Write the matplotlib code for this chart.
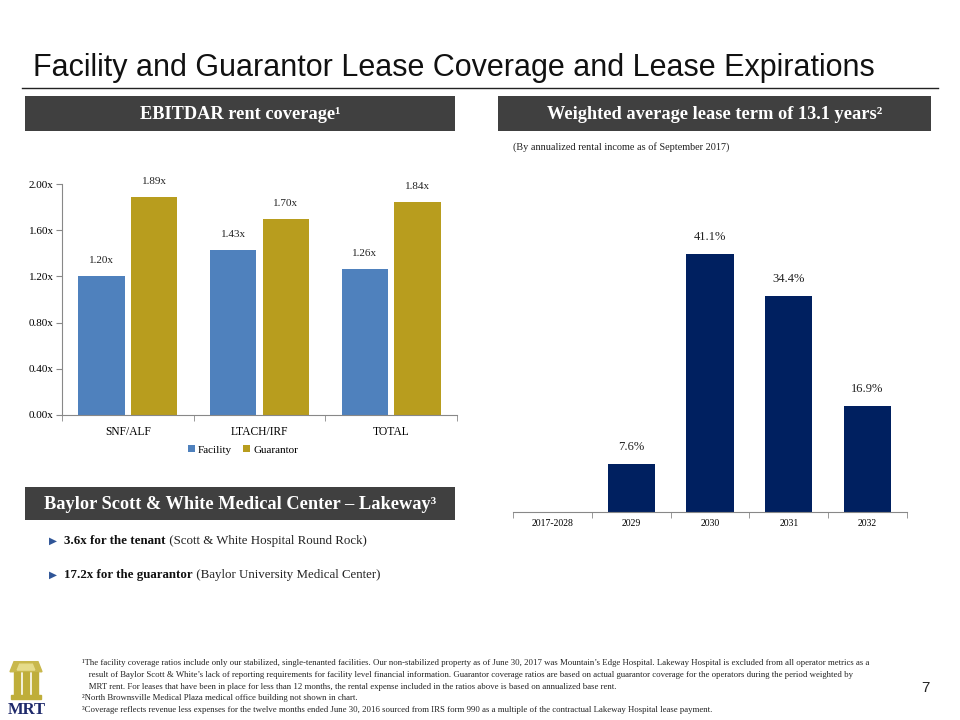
import matplotlib
matplotlib.use("Agg")
import matplotlib.pyplot as plt
from matplotlib.patches import Rectangle, Polygon
import numpy as np

# ---------------- data ----------------
cov_categories = ["SNF/ALF", "LTACH/IRF", "TOTAL"]
facility = [1.20, 1.43, 1.26]
guarantor = [1.89, 1.70, 1.84]
cov_ticks = [0.0, 0.4, 0.8, 1.2, 1.6, 2.0]

exp_categories = ["2017-2028", "2029", "2030", "2031", "2032"]
exp_values = [0.0, 7.6, 41.1, 34.4, 16.9]

title = "Facility and Guarantor Lease Coverage and Lease Expirations"
footnotes = [
    "\u00b9The facility coverage ratios include only our stabilized, single-tenanted facilities. Our non-stabilized property as of June 30, 2017 was Mountain\u2019s Edge Hospital. Lakeway Hospital is excluded from all operator metrics as a",
    "   result of Baylor Scott & White\u2019s lack of reporting requirements for facility level financial information. Guarantor coverage ratios are based on actual guarantor coverage for the operators during the period weighted by",
    "   MRT rent. For leases that have been in place for less than 12 months, the rental expense included in the ratios above is based on annualized base rent.",
    "\u00b2North Brownsville Medical Plaza medical office building not shown in chart.",
    "\u00b3Coverage reflects revenue less expenses for the twelve months ended June 30, 2016 sourced from IRS form 990 as a multiple of the contractual Lakeway Hospital lease payment.",
]

# ---------------- style ----------------
W, H = 960, 720
SERIF = ["Liberation Serif", "DejaVu Serif"]
SANS = ["Liberation Sans", "DejaVu Sans"]
BLUE = "#4F81BD"
GOLD = "#B89D1E"
NAVY = "#002060"
DARK = "#404040"
AXC = "#888888"

fig = plt.figure(figsize=(W / 100, H / 100), dpi=100)


def fx(x):
    return x / W


def fy(y):
    return 1 - y / H


# title and rule
fig.text(fx(33), fy(76), title, family=SANS, fontsize=22, color="#111111",
         va="baseline", ha="left")
fig.add_artist(plt.Line2D([fx(22), fx(938)], [fy(88), fy(88)], color="#222222",
                          lw=1.0, transform=fig.transFigure))


def header(x0, x1, y0, y1, text, size=13.2):
    fig.add_artist(Rectangle((fx(x0), fy(y1)), fx(x1 - x0), (y1 - y0) / H,
                             transform=fig.transFigure, color=DARK, lw=0))
    fig.text(fx((x0 + x1) / 2), fy((y0 + y1) / 2 + 1), text, family=SERIF,
             fontsize=size, fontweight="bold", color="white", ha="center", va="center")


header(25, 455, 96, 131, "EBITDAR rent coverage\u00b9")
header(498, 931, 96, 131, "Weighted average lease term of 13.1 years\u00b2")
header(25, 455, 487, 520, "Baylor Scott & White Medical Center \u2013 Lakeway\u00b3")

fig.text(fx(513), fy(147), "(By annualized rental income as of September 2017)",
         family=SERIF, fontsize=7.4, color="#222222", va="center", ha="left")

# ---------------- left chart ----------------
ax1 = fig.add_axes([fx(62), fy(415), fx(457 - 62), (415 - 184) / H])
x = np.arange(len(cov_categories))
bw = 0.35
off = 0.2
b1 = ax1.bar(x - off, facility, bw, color=BLUE, label="Facility")
b2 = ax1.bar(x + off, guarantor, bw, color=GOLD, label="Guarantor")
for bars, vals in ((b1, facility), (b2, guarantor)):
    for r, v in zip(bars, vals):
        ax1.annotate(f"{v:.2f}x", (r.get_x() + r.get_width() / 2, v),
                     xytext=(0, 8), textcoords="offset points", ha="center",
                     va="bottom", family=SERIF, fontsize=8, color="#222222")
ax1.set_xlim(-0.5, len(cov_categories) - 0.5)
ax1.set_ylim(0, 2.0)
ax1.set_yticks(cov_ticks)
ax1.set_yticklabels([f"{t:.2f}x" for t in cov_ticks], family=SERIF, fontsize=8)
ax1.set_xticks(x)
ax1.set_xticklabels(cov_categories, family=SERIF, fontsize=8.3)
ax1.set_xticks(np.arange(len(cov_categories) + 1) - 0.5, minor=True)
ax1.tick_params(axis="x", which="major", length=0, pad=8)
ax1.tick_params(axis="x", which="minor", length=4, color=AXC)
ax1.tick_params(axis="y", length=4, color=AXC, pad=2)
for s in ("top", "right"):
    ax1.spines[s].set_visible(False)
for s in ("left", "bottom"):
    ax1.spines[s].set_color(AXC)
    ax1.spines[s].set_linewidth(0.8)

fig.legend(handles=[b1, b2], labels=["Facility", "Guarantor"], loc="center",
           bbox_to_anchor=(fx(243), fy(450)), ncol=2, frameon=False,
           prop={"family": SERIF, "size": 8}, handlelength=0.6, handleheight=0.6,
           handletextpad=0.3, columnspacing=1.0)

# ---------------- right chart ----------------
ax2 = fig.add_axes([fx(513), fy(512), fx(907 - 513), (512 - 160) / H])
x2 = np.arange(len(exp_categories))
bars = ax2.bar(x2, exp_values, 0.6, color=NAVY)
for r, v in zip(bars, exp_values):
    if v > 0:
        ax2.annotate(f"{v:.1f}%", (r.get_x() + r.get_width() / 2, v),
                     xytext=(0, 8), textcoords="offset points", ha="center",
                     va="bottom", family=SERIF, fontsize=9, color="#222222")
ax2.set_xlim(-0.5, len(exp_categories) - 0.5)
ax2.set_ylim(0, 56)
ax2.set_yticks([])
ax2.set_xticks(x2)
ax2.set_xticklabels(exp_categories, family=SERIF, fontsize=7)
ax2.set_xticks(np.arange(len(exp_categories) + 1) - 0.5, minor=True)
ax2.tick_params(axis="x", which="major", length=0, pad=5)
ax2.tick_params(axis="x", which="minor", length=4, color=AXC)
for s in ("top", "right", "left"):
    ax2.spines[s].set_visible(False)
ax2.spines["bottom"].set_color(AXC)
ax2.spines["bottom"].set_linewidth(0.8)

# ---------------- bullets ----------------
bullets = [
    ("3.6x for the tenant", " (Scott & White Hospital Round Rock)", 541),
    ("17.2x for the guarantor", " (Baylor University Medical Center)", 575),
]
for bold, rest, yy in bullets:
    fig.text(fx(49), fy(yy), "\u25b6", family=["DejaVu Sans"], fontsize=7.5,
             color="#2F5597", va="center", ha="left")
    t = fig.text(fx(64), fy(yy), bold, family=SERIF, fontsize=9.3,
                 fontweight="bold", color="#111111", va="center", ha="left")
    fig.add_artist(matplotlib.text.Annotation(
        rest, xy=(1, 0.5), xycoords=t, va="center", ha="left",
        family=SERIF, fontsize=9.3, color="#222222", annotation_clip=False))

# ---------------- footnotes ----------------
for i, line in enumerate(footnotes):
    fig.text(fx(82), fy(663 + i * 11.8), line, family=SERIF, fontsize=6.3,
             color="#222222", va="center", ha="left")

fig.text(fx(925), fy(688), "7", family=SANS, fontsize=11, color="#222222",
         ha="center", va="center")

# ---------------- logo ----------------
lg = fig.add_axes([fx(6), fy(702), fx(40), 42 / H])
lg.set_xlim(0, 10)
lg.set_ylim(0, 10)
lg.axis("off")
lg.add_patch(Polygon([[1, 7.2], [9, 7.2], [8, 9.6], [2, 9.6]], color="#C9B84C"))
lg.add_patch(Polygon([[2.8, 7.6], [7.2, 7.6], [6.6, 9.0], [3.4, 9.0]], color="#E6DC8A"))
for cx in (2.0, 4.3, 6.6):
    lg.add_patch(Rectangle((cx, 1.5), 1.4, 5.6, color="#BFAE3A"))
lg.add_patch(Rectangle((1.2, 0.6), 7.6, 1.0, color="#BFAE3A"))
fig.text(fx(27), fy(710), "MRT", family=SERIF, fontsize=12, fontweight="bold",
         color="#1F2A6B", ha="center", va="center")

fig.savefig("out.png", dpi=100)
